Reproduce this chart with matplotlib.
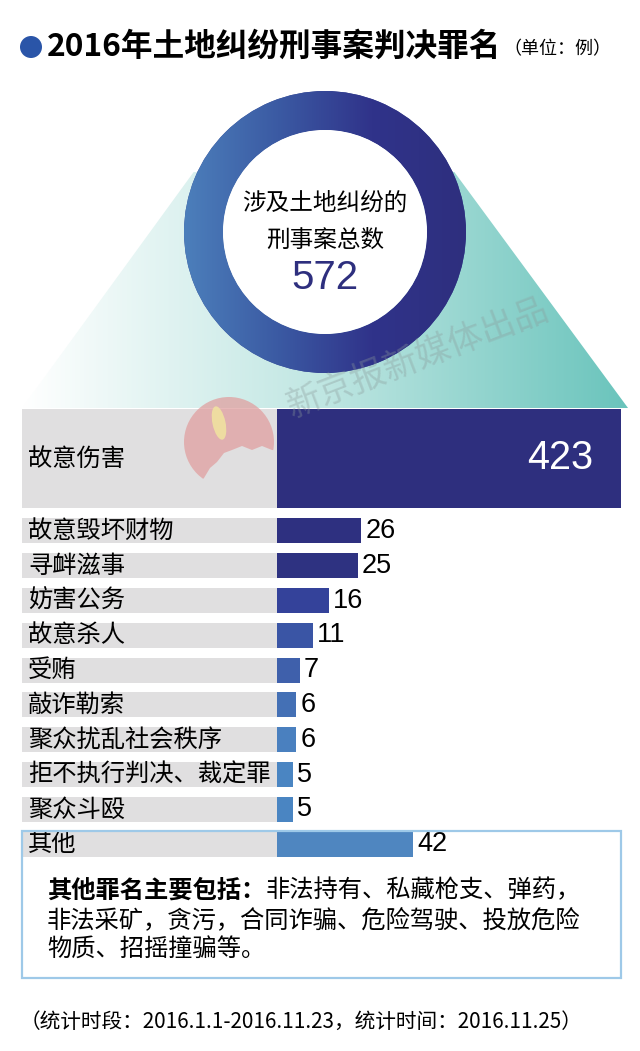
import numpy as np
import matplotlib
matplotlib.use('Agg')
import matplotlib.pyplot as plt
from matplotlib.patches import Circle, Polygon, Rectangle, Ellipse
from matplotlib.colors import LinearSegmentedColormap
from matplotlib import font_manager as fm

CJK = 'Noto Sans CJK SC'
names = {f.name for f in fm.fontManager.ttflist}
NUM = 'Liberation Sans Narrow' if 'Liberation Sans Narrow' in names else 'Liberation Sans'
plt.rcParams['font.family'] = [CJK, 'DejaVu Sans']

# ---------------- data ----------------
title = '2016年土地纠纷刑事案判决罪名'
unit = '（单位：例）'
center_lines = ['涉及土地纠纷的', '刑事案总数']
total = 572
categories = ['故意伤害', '故意毁坏财物', '寻衅滋事', '妨害公务', '故意杀人', '受贿',
              '敲诈勒索', '聚众扰乱社会秩序', '拒不执行判决、裁定罪', '聚众斗殴', '其他']
values = [423, 26, 25, 16, 11, 7, 6, 6, 5, 5, 42]
note_head = '其他罪名主要包括：'
note_lines = ['非法持有、私藏枪支、弹药，',
              '非法采矿，贪污，合同诈骗、危险驾驶、投放危险',
              '物质、招摇撞骗等。']
footer = '（统计时段：2016.1.1-2016.11.23，统计时间：2016.11.25）'
watermark = '新京报新媒体出品'

# ---------------- style ----------------
bar_colors = ['#2e2f7e', '#2e3080', '#2e3281', '#34429a', '#3a55a5', '#3f60ab',
              '#4470b5', '#4a80bf', '#4a85c2', '#4a85c2', '#4f86c0']
gray = '#e0dfe0'

W, H = 640, 1051
fig = plt.figure(figsize=(6.4, 10.51), dpi=100)
fig.patch.set_facecolor('white')

# background layer
bg = fig.add_axes([0, 0, 1, 1], zorder=0)
bg.axis('off')

# teal trapezoid (triangle hidden behind the donut) with gradient
ty = 172
lx = lambda y: 190 - 0.727 * (y - 177)
rx = lambda y: 458 + 0.736 * (y - 177)
tri = Polygon([(lx(ty), ty), (rx(ty), ty), (rx(408), 408), (lx(408), 408)],
              closed=True, facecolor='none', edgecolor='none')
bg.add_patch(tri)
tcmap = LinearSegmentedColormap.from_list('t', ['#ffffff', '#bfe6e2', '#6ac4bc'])
grad = np.linspace(0, 1, 256).reshape(1, -1)
im = bg.imshow(grad, cmap=tcmap, extent=(lx(408), rx(408), 408, ty), aspect='auto',
               zorder=1)
im.set_clip_path(tri)

# donut
cx, cy, R, r = 325, 232, 141, 102
wedges, _ = bg.pie([total], radius=R, center=(cx, cy), frame=True, startangle=90,
                   wedgeprops=dict(width=R - r, edgecolor='none'),
                   colors=['#3a4a94'])
for w in wedges:
    w.set_zorder(2)
rcmap = LinearSegmentedColormap.from_list('r', ['#4c7fbb', '#3b5aa3', '#30338a', '#2e2f7e'])
im2 = bg.imshow(grad, cmap=rcmap, extent=(cx - R, cx + R, cy + R, cy - R),
                aspect='auto', zorder=3)
im2.set_clip_path(wedges[0])
bg.add_patch(Circle((cx, cy), r, facecolor='white', edgecolor='none', zorder=4))
bg.text(cx, 203, center_lines[0], ha='center', va='center', fontsize=17, zorder=5)
bg.text(cx, 240, center_lines[1], ha='center', va='center', fontsize=17, zorder=5)
bg.text(cx, 278, str(total), ha='center', va='center', fontsize=29, color='#2e2f7e',
        family=NUM, zorder=5)

# title
bg.add_patch(Circle((31, 47), 11, facecolor='#2a55a8', edgecolor='none'))
bg.text(47, 47, title, ha='left', va='center', fontsize=22.8, fontweight='bold')
bg.text(503, 49, unit, ha='left', va='center', fontsize=13)

bg.set_xlim(0, W)
bg.set_ylim(H, 0)
bg.set_aspect('auto')

# ---------------- bars ----------------
px_per_unit = 3.24
x0 = -(277 - 22) / px_per_unit
x1 = (621 - 277) / px_per_unit
axb = fig.add_axes([22 / W, 1 - 860 / H, 599 / W, 455 / H], zorder=1)
axb.patch.set_alpha(0)
axb.set_xlim(x0, x1)
axb.set_ylim(860, 405)
axb.axis('off')
ys = [458.5] + [531 + 34.8 * i for i in range(len(values) - 1)]
hs = [99] + [25] * (len(values) - 1)
axb.barh(ys, [-x0] * len(values), left=x0, height=hs, color=gray)
axb.barh(ys, values, height=hs, color=bar_colors)
for i, (c, v, y) in enumerate(zip(categories, values, ys)):
    axb.annotate(c, xy=(x0, y), xytext=(6, 0), textcoords='offset pixels',
                 va='center', ha='left', fontsize=17.5)
    if i == 0:
        axb.annotate(str(v), xy=(1, y), xycoords=('axes fraction', 'data'),
                     xytext=(-28, 0), textcoords='offset pixels', ha='right',
                     va='center', fontsize=28.5, color='white', family=NUM)
    else:
        axb.annotate(str(v), xy=(v, y), xytext=(4, 0), textcoords='offset pixels',
                     ha='left', va='center', fontsize=19.5, family=NUM)

# ---------------- overlay ----------------
ov = fig.add_axes([0, 0, 1, 1], zorder=2)
ov.patch.set_alpha(0)
ov.axis('off')
ov.set_xlim(0, W)
ov.set_ylim(H, 0)

ov.add_patch(Rectangle((22, 831), 599, 147, fill=False, edgecolor='#9ec9e8', lw=1.6))
t1 = ov.text(47, 891, note_head, ha='left', va='center', fontsize=17.5, fontweight='bold')
ov.annotate(note_lines[0], xy=(1, 0), xycoords=t1, ha='left', va='bottom', fontsize=17.5)
ov.text(47, 921, note_lines[1], ha='left', va='center', fontsize=17.5)
ov.text(47, 949, note_lines[2], ha='left', va='center', fontsize=17.5)
ov.text(20, 1022, footer, ha='left', va='center', fontsize=14.9)

# logo watermark
logo = Circle((229, 442), 45, facecolor='#e0a0a0', edgecolor='none', alpha=0.75)
clip = Polygon([(170, 380), (290, 380), (290, 452), (272, 450), (262, 446), (252, 450),
                (242, 446), (232, 450), (224, 453), (217, 462), (210, 468),
                (204, 478), (198, 484), (170, 495)], closed=True,
               transform=ov.transData)
ov.add_patch(logo)
logo.set_clip_path(clip)
ov.add_patch(Ellipse((219, 423), 13, 34, angle=-12, facecolor='#f0e2a0',
                     edgecolor='none', alpha=0.9))
ov.text(418, 358, watermark, rotation=21, rotation_mode='anchor', ha='center',
        va='center', fontsize=25, color='#8a9a9a', alpha=0.35)

fig.savefig('out.png', dpi=100)
